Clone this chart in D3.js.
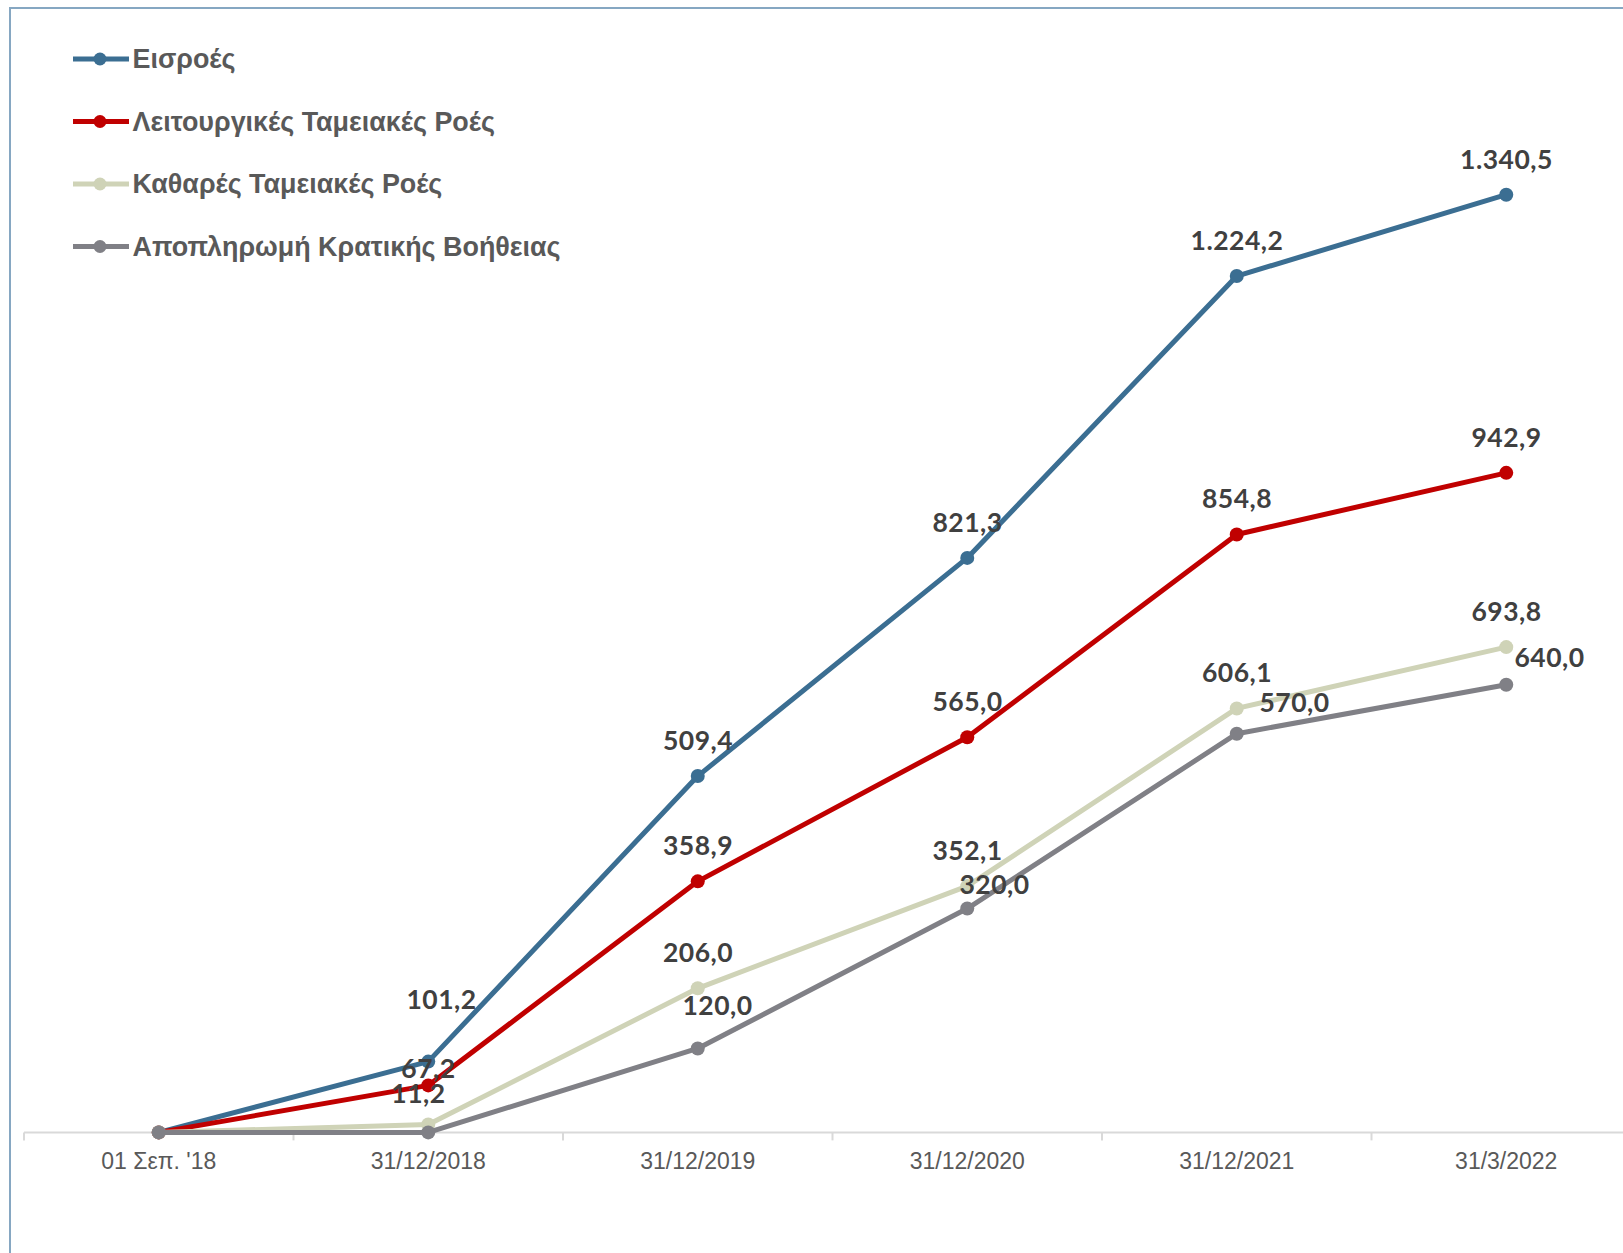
<!DOCTYPE html>
<html>
<head>
<meta charset="utf-8">
<script src="https://cdn.jsdelivr.net/npm/d3@7/dist/d3.min.js"></script>
<style>
  html, body { margin: 0; padding: 0; background: #ffffff; }
  svg { display: block; }
</style>
</head>
<body>
<div id="chart"></div>
<script>
// ---- Data ----
const categories = ["01 Σεπ. '18", "31/12/2018", "31/12/2019", "31/12/2020", "31/12/2021", "31/3/2022"];
const seriesNames = ["Εισροές", "Λειτουργικές Ταμειακές Ροές", "Καθαρές Ταμειακές Ροές", "Αποπληρωμή Κρατικής Βοήθειας"];
const inflows      = [0, 101.2, 509.4, 821.3, 1224.2, 1340.5];
const operatingCF  = [0, 67.2, 358.9, 565.0, 854.8, 942.9];
const netCF        = [0, 11.2, 206.0, 352.1, 606.1, 693.8];
const aidRepayment = [0, 0, 120.0, 320.0, 570.0, 640.0];
// which points carry a data label
const labelShown = [
  [false, true, true, true, true, true],
  [false, true, true, true, true, true],
  [false, true, true, true, true, true],
  [false, false, true, true, true, true]
];

// ---- Layout / style ----
const W = 1623, H = 1253;
const colors = ["#3b6e92", "#c00000", "#cfd3b7", "#808086"];
const defaultDx = 0, defaultDy = -26;
// manual label nudges [dx, dy] (layout only)
const labelNudge = [
  [null, [13, -53], null, null, null, null],
  [null, [0, -7], null, null, null, null],
  [null, [-10, -22], null, null, null, null],
  [null, null, [19.5, -33.5], [27, -15], [57.5, -22], [43, -17.5]]
];

const values = [inflows, operatingCF, netCF, aidRepayment];

const svg = d3.select("#chart").append("svg")
  .attr("width", W).attr("height", H);

// border
svg.append("rect")
  .attr("x", 10).attr("y", 8)
  .attr("width", W + 20).attr("height", H + 20)
  .attr("fill", "none")
  .attr("stroke", "#86a7c2").attr("stroke-width", 2);

const x = d3.scaleBand().domain(categories).range([24, 24 + 6 * 269.5]).padding(0);
const cx = c => x(c) + x.bandwidth() / 2;
const y = d3.scaleLinear().domain([0, 1600]).range([1132.4, 1132.4 - 1600 * 0.6995]);

const loc = d3.formatLocale({ decimal: ",", thousands: ".", grouping: [3], currency: ["", "€"] });
const fmt = loc.format(",.1f");

// axis line and boundary ticks
const axisG = svg.append("g");
axisG.append("line")
  .attr("x1", x.range()[0]).attr("x2", x.range()[1])
  .attr("y1", y(0)).attr("y2", y(0))
  .attr("stroke", "#d9d9d9").attr("stroke-width", 2);
const bounds = categories.map(c => x(c)).concat([x.range()[1]]);
axisG.selectAll("line.tk").data(bounds).enter().append("line")
  .attr("class", "tk")
  .attr("x1", d => d).attr("x2", d => d)
  .attr("y1", y(0)).attr("y2", y(0) + 8)
  .attr("stroke", "#d9d9d9").attr("stroke-width", 2);

// x axis labels via d3 axis
const xAxis = d3.axisBottom(x).tickSize(0).tickPadding(0);
const xg = svg.append("g").attr("transform", `translate(0, ${y(0)})`).call(xAxis);
xg.select(".domain").remove();
xg.selectAll("text")
  .attr("y", 37).attr("dy", null)
  .attr("font-family", "'Liberation Sans', Arial, sans-serif")
  .attr("font-size", 23)
  .attr("fill", "#595959");

// lines
const line = d3.line().x((d, i) => cx(categories[i])).y(d => y(d));
values.forEach((vals, s) => {
  const g = svg.append("g");
  g.append("path").datum(vals)
    .attr("d", line)
    .attr("fill", "none")
    .attr("stroke", colors[s])
    .attr("stroke-width", 5)
    .attr("stroke-linejoin", "round");
  g.selectAll("circle").data(vals).enter().append("circle")
    .attr("cx", (d, i) => cx(categories[i]))
    .attr("cy", d => y(d))
    .attr("r", 7)
    .attr("fill", colors[s]);
});

// data labels (on top)
values.forEach((vals, s) => {
  svg.append("g").selectAll("text")
    .data(vals.map((v, i) => ({ v, i })).filter(d => labelShown[s][d.i]))
    .enter().append("text")
    .attr("x", d => cx(categories[d.i]) + (labelNudge[s][d.i] ? labelNudge[s][d.i][0] : defaultDx) + 0.25)
    .attr("y", d => y(d.v) + (labelNudge[s][d.i] ? labelNudge[s][d.i][1] : defaultDy))
    .attr("text-anchor", "middle")
    .attr("font-family", "Lato, sans-serif")
    .attr("font-weight", "bold")
    .attr("font-size", 26.5)
    .attr("letter-spacing", 0.5)
    .attr("fill", "#404040")
    .text(d => fmt(d.v));
});

// legend
const legend = svg.append("g");
seriesNames.forEach((name, s) => {
  const ly = 59 + s * 62.5;
  legend.append("line")
    .attr("x1", 73).attr("x2", 129).attr("y1", ly).attr("y2", ly)
    .attr("stroke", colors[s]).attr("stroke-width", 5);
  legend.append("circle")
    .attr("cx", 100).attr("cy", ly).attr("r", 6.5)
    .attr("fill", colors[s]);
  legend.append("text")
    .attr("x", 132.5).attr("y", ly + 9)
    .attr("font-family", "'Liberation Sans', Arial, sans-serif")
    .attr("font-weight", "bold")
    .attr("font-size", 26.9)
    .attr("fill", "#595959")
    .text(name);
});
</script>
</body>
</html>
